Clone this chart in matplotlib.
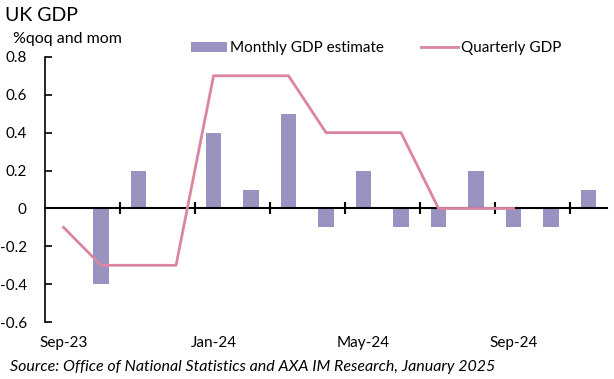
import numpy as np
import matplotlib.pyplot as plt

plt.rcParams['font.family'] = ['Lato', 'DejaVu Sans']

# months Sep-23 .. Nov-24
months = ['Sep-23', 'Oct-23', 'Nov-23', 'Dec-23', 'Jan-24', 'Feb-24', 'Mar-24', 'Apr-24',
          'May-24', 'Jun-24', 'Jul-24', 'Aug-24', 'Sep-24', 'Oct-24', 'Nov-24']
monthly = [0.0, -0.4, 0.2, 0.0, 0.4, 0.1, 0.5, -0.1, 0.2, -0.1, -0.1, 0.2, -0.1, -0.1, 0.1]
quarterly = [-0.1, -0.3, -0.3, -0.3, 0.7, 0.7, 0.7, 0.4, 0.4, 0.4, 0.0, 0.0, 0.0]

bar_col = '#9893C1'
line_col = '#DB85A3'

x = np.arange(len(months))

fig = plt.figure(figsize=(6.14, 3.79), dpi=100)
ax = fig.add_axes([0.073, 0.150, 0.916, 0.700])

bars = ax.bar(x, monthly, width=0.42, color=bar_col, label='Monthly GDP estimate', zorder=2)
line, = ax.plot(x[:len(quarterly)], quarterly, color=line_col, lw=2.0, label='Quarterly GDP', zorder=3)

ax.set_xlim(-0.5, len(months) - 0.5)
ax.set_ylim(-0.6, 0.8)
ax.set_yticks(np.arange(-0.6, 0.81, 0.2))
ax.set_yticklabels(['-0.6', '-0.4', '-0.2', '0', '0.2', '0.4', '0.6', '0.8'])
ax.tick_params(axis='y', direction='in', length=5, width=1.2, labelsize=11, pad=13)

# x axis line at zero, ticks at every second month boundary
for s in ['top', 'right']:
    ax.spines[s].set_visible(False)
ax.spines['bottom'].set_position(('data', 0))
ax.spines['bottom'].set_linewidth(1.5)
ax.spines['left'].set_linewidth(1.2)
ax.set_xticks(np.arange(1.5, len(months) - 0.5, 2))
ax.set_xticklabels([])
ax.tick_params(axis='x', direction='inout', length=8, width=1.5)

# month labels along the bottom
sec = ax.secondary_xaxis(0)
sec.set_xticks(x[::4])
sec.set_xticklabels(months[::4])
sec.spines['bottom'].set_visible(False)
sec.tick_params(length=0, labelsize=11, pad=10)

fig.text(0.008, 0.958, 'UK GDP', fontsize=14, va='center')
fig.text(0.021, 0.898, '%qoq and mom', fontsize=11.5, va='center')
fig.text(0.016, 0.032, 'Source: Office of National Statistics and AXA IM Research, January 2025',
         fontsize=11.5, style='italic', va='center')

fig.legend([bars, line], ['Monthly GDP estimate', 'Quarterly GDP'],
           loc='center', bbox_to_anchor=(0.612, 0.873), ncol=2, frameon=False,
           fontsize=11, handlelength=2.4, handletextpad=0.2, columnspacing=2.4,
           handleheight=0.6)

fig.savefig('out.png', dpi=100)
